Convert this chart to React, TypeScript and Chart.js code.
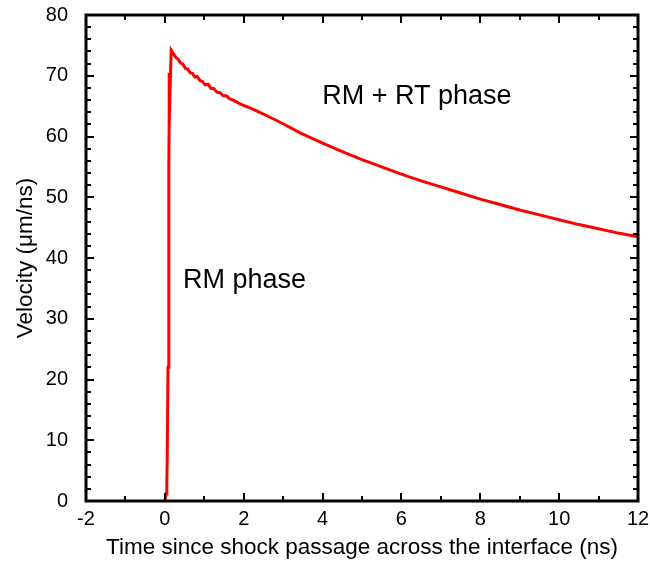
import React, { useEffect, useRef } from "react";
import { Chart, registerables } from "chart.js";

Chart.register(...registerables);

// Interface velocity vs. time since shock passage
const timeNs: number[] = [
  0.0, 0.03, 0.05, 0.06, 0.08, 0.1, 0.12, 0.11, 0.16,
  0.22, 0.28, 0.34, 0.4, 0.46, 0.52, 0.58, 0.64, 0.7, 0.76, 0.82, 0.89,
  0.95, 1.02, 1.1, 1.17, 1.24, 1.32, 1.4, 1.48, 1.56, 1.65, 1.73, 1.82, 1.9,
  2.0, 2.16, 2.5, 3.0, 3.43, 4.0, 4.5, 5.0, 5.5, 5.96,
  6.5, 7.0, 7.5, 8.0, 8.5, 9.0, 9.5, 10.0, 10.5, 11.0, 11.5, 12.0,
];
const velocity: number[] = [
  0.0, 1.2, 3.0, 7.0, 22.0, 55.0, 70.5, 62.0, 74.2,
  73.6, 73.0, 72.7, 72.1, 71.9, 71.2, 71.1, 70.5, 70.4, 69.8, 69.9, 69.2,
  69.1, 68.5, 68.6, 67.9, 67.9, 67.3, 67.2, 66.7, 66.7, 66.2, 66.0, 65.7, 65.4,
  65.1, 64.7, 63.7, 62.1, 60.6, 58.9, 57.5, 56.2, 55.0, 53.9,
  52.7, 51.7, 50.7, 49.7, 48.8, 47.9, 47.1, 46.3, 45.5, 44.8, 44.1, 43.5,
];

const xTicks: number[] = [-2, 0, 2, 4, 6, 8, 10, 12];
const yTicks: number[] = [0, 10, 20, 30, 40, 50, 60, 70, 80];
const xMinorStep = 1;
const yMinorStep = 2;

const phaseLabels: { text: string; x: number; y: number }[] = [
  { text: "RM + RT phase", x: 3.99, y: 65.4 },
  { text: "RM phase", x: 0.46, y: 35.0 },
];

const FONT = "'Liberation Sans', Arial, Helvetica, sans-serif";

// Draws the boxed frame with inward ticks on all four sides, plus phase labels.
const framePlugin = {
  id: "frameTicks",
  afterDatasetsDraw(chart: any) {
    const { ctx, chartArea } = chart;
    const xs = chart.scales.x;
    const ys = chart.scales.y;
    const { left, right, top, bottom } = chartArea;
    ctx.save();

    // phase annotations
    ctx.fillStyle = "#000";
    ctx.font = `27px ${FONT}`;
    ctx.textBaseline = "alphabetic";
    ctx.textAlign = "left";
    for (const l of phaseLabels) {
      ctx.fillText(l.text, xs.getPixelForValue(l.x), ys.getPixelForValue(l.y));
    }

    ctx.strokeStyle = "#000";
    ctx.lineWidth = 2;
    ctx.lineCap = "butt";
    const major = 8;
    const minor = 5;

    ctx.beginPath();
    for (let v = xs.min; v <= xs.max + 1e-9; v += xMinorStep) {
      const px = Math.round(xs.getPixelForValue(v));
      const len = xTicks.includes(Math.round(v)) ? major : minor;
      ctx.moveTo(px, bottom);
      ctx.lineTo(px, bottom - len);
      ctx.moveTo(px, top);
      ctx.lineTo(px, top + len);
    }
    for (let v = ys.min; v <= ys.max + 1e-9; v += yMinorStep) {
      const py = Math.round(ys.getPixelForValue(v));
      const len = yTicks.includes(Math.round(v)) ? major : minor;
      ctx.moveTo(left, py);
      ctx.lineTo(left + len, py);
      ctx.moveTo(right, py);
      ctx.lineTo(right - len, py);
    }
    ctx.stroke();

    ctx.lineWidth = 3;
    ctx.strokeRect(left, top, right - left, bottom - top);
    ctx.restore();
  },
};

export default function App() {
  const canvasRef = useRef<HTMLCanvasElement | null>(null);

  useEffect(() => {
    const canvas = canvasRef.current;
    if (!canvas) return;
    const points = timeNs.map((t, i) => ({ x: t, y: velocity[i] }));
    const chart = new Chart(canvas, {
      type: "scatter",
      data: {
        datasets: [
          {
            data: points,
            showLine: true,
            borderColor: "#ff0000",
            borderWidth: 3,
            pointRadius: 0,
            tension: 0,
          },
        ],
      },
      options: {
        animation: false,
        responsive: false,
        devicePixelRatio: 1,
        layout: { padding: { top: 15, right: 12, left: 0, bottom: 0 } },
        plugins: {
          legend: { display: false },
          tooltip: { enabled: false },
        },
        scales: {
          x: {
            type: "linear",
            min: -2,
            max: 12,
            afterFit: (s: any) => {
              s.height = 63;
              s.paddingLeft = 0;
              s.paddingRight = 0;
            },
            afterBuildTicks: (s: any) => {
              s.ticks = xTicks.map((v) => ({ value: v }));
            },
            grid: { display: false, drawTicks: false },
            border: { display: false },
            ticks: {
              padding: 6,
              color: "#000",
              font: { family: FONT, size: 20 },
              maxRotation: 0,
            },
            title: {
              display: true,
              text: "Time since shock passage across the interface (ns)",
              color: "#000",
              font: { family: FONT, size: 22.5 },
              padding: { top: 0, bottom: 3 },
            },
          },
          y: {
            type: "linear",
            min: 0,
            max: 80,
            afterFit: (s: any) => {
              s.width = 86;
              s.paddingTop = 0;
              s.paddingBottom = 0;
            },
            afterBuildTicks: (s: any) => {
              s.ticks = yTicks.map((v) => ({ value: v }));
            },
            grid: { display: false, drawTicks: false },
            border: { display: false },
            ticks: {
              padding: 18,
              color: "#000",
              font: { family: FONT, size: 20 },
            },
            title: {
              display: true,
              text: "Velocity (μm/ns)",
              color: "#000",
              font: { family: FONT, size: 22.5 },
              padding: { top: 12, bottom: 0 },
            },
          },
        },
      },
      plugins: [framePlugin],
    });
    return () => chart.destroy();
  }, []);

  return (
    <div style={{ position: "absolute", left: 0, top: 0, width: 650, height: 564, background: "#fff" }}>
      <canvas ref={canvasRef} width={650} height={564} style={{ display: "block" }} />
    </div>
  );
}
